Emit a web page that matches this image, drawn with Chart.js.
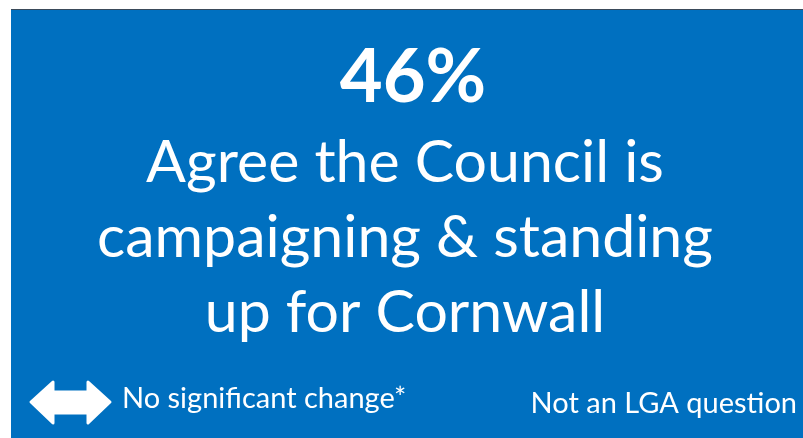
<!DOCTYPE html>
<html>
<head>
  <title>Council campaigning</title>
  <script src="https://cdn.jsdelivr.net/npm/chart.js"></script>
  <style>
    body { margin: 0; background: #fff; overflow: hidden; }
    canvas { display: block; }
  </style>
</head>
<body>
<canvas id="cardChart" width="803" height="438"></canvas>

<script>
  // headline figure and the statement under it
  const headlineValue = [46];
  const headlineUnit = "%";
  const statementLines = ["Agree the Council is", "campaigning & standing", "up for Cornwall"];
  const footerLeft = ["No significant change*"];
  const footerRight = ["Not an LGA question"];

  const BLUE = "#0070C0";
  const FONT = "Lato, 'Open Sans', sans-serif";

  // draws the blue card, the figure, the statement and the footer notes
  const cardPlugin = {
    id: "card",
    beforeDraw(chart) {
      const ctx = chart.ctx;
      const w = chart.width, h = chart.height;
      ctx.save();
      ctx.fillStyle = "#fff";
      ctx.fillRect(0, 0, w, h);
      ctx.fillStyle = BLUE;
      ctx.fillRect(11, 9, w - 11, h - 9);
      ctx.fillStyle = "#3a4a5a";
      ctx.fillRect(11, 9, w - 11, 1);
      ctx.restore();
    },
    afterDraw(chart) {
      const ctx = chart.ctx;
      ctx.save();
      ctx.fillStyle = "#fff";
      ctx.textBaseline = "alphabetic";
      ctx.textAlign = "center";

      ctx.font = "bold 74px " + FONT;
      ctx.fillText(headlineValue[0] + headlineUnit, 413, 102);

      ctx.font = "59px " + FONT;
      statementLines.forEach((line, i) => {
        ctx.fillText(line, 405, 182 + i * 75);
      });

      ctx.font = "29px " + FONT;
      ctx.textAlign = "left";
      ctx.fillText(footerLeft[0], 122, 408);
      ctx.textAlign = "right";
      ctx.fillText(footerRight[0], 797, 413);

      // double-headed arrow
      ctx.beginPath();
      ctx.lineJoin = "round";
      ctx.strokeStyle = "#fff";
      ctx.lineWidth = 3;
      ctx.moveTo(31, 402);
      ctx.lineTo(53, 382);
      ctx.lineTo(53, 392);
      ctx.lineTo(88, 392);
      ctx.lineTo(88, 382);
      ctx.lineTo(110, 402);
      ctx.lineTo(88, 423);
      ctx.lineTo(88, 413);
      ctx.lineTo(53, 413);
      ctx.lineTo(53, 423);
      ctx.closePath();
      ctx.fill();
      ctx.stroke();
      ctx.restore();
    }
  };

  new Chart(document.getElementById("cardChart"), {
    type: "bar",
    data: {
      labels: [""],
      datasets: [{ data: [], backgroundColor: "transparent" }]
    },
    options: {
      responsive: false,
      animation: false,
      events: [],
      plugins: { legend: { display: false }, tooltip: { enabled: false } },
      scales: { x: { display: false }, y: { display: false } }
    },
    plugins: [cardPlugin]
  });
</script>
</body>
</html>
